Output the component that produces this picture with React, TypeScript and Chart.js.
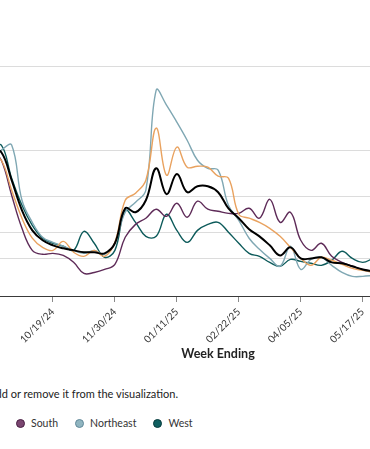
import React, { useEffect, useRef } from "react";
import { Chart, registerables } from "chart.js";

Chart.register(...registerables);

const weeks = [
  "09/07/24", "09/14/24", "09/21/24", "09/28/24", "10/05/24", "10/12/24", "10/19/24", "10/26/24",
  "11/02/24", "11/09/24", "11/16/24", "11/23/24", "11/30/24", "12/07/24", "12/14/24", "12/21/24",
  "12/28/24", "01/04/25", "01/11/25", "01/18/25", "01/25/25", "02/01/25", "02/08/25", "02/15/25",
  "02/22/25", "03/01/25", "03/08/25", "03/15/25", "03/22/25", "03/29/25", "04/05/25", "04/12/25",
  "04/19/25", "04/26/25", "05/03/25", "05/10/25", "05/17/25", "05/24/25",
];

const shownTicks = ["09/07/24", "10/19/24", "11/30/24", "01/11/25", "02/22/25", "04/05/25", "05/17/25"];

const national = [
  7.8, 7.69, 6.19, 4.58, 3.51, 2.98, 2.71, 2.55, 2.44, 2.34, 2.34, 2.28, 2.82, 4.69, 4.48, 5.12,
  6.83, 5.45, 6.52, 5.55, 5.87, 5.87, 5.55, 4.69, 4.16, 3.57, 3.19, 2.71, 2.17, 2.6, 2.01, 2.01,
  2.07, 1.8, 1.75, 1.59, 1.42, 1.32,
];

const midwest = [
  7.53, 7.26, 5.66, 4.16, 3.09, 2.6, 2.44, 2.92, 2.34, 2.12, 2.44, 2.12, 2.87, 5.12, 5.5, 6.19,
  8.98, 6.46, 7.96, 6.89, 6.94, 6.89, 6.41, 6.3, 4.37, 4.16, 3.94, 3.62, 3.19, 2.6, 2.01, 1.64,
  2.07, 1.91, 1.69, 1.48, 1.37, 1.26,
];

const south = [
  7.9, 7.26, 5.39, 3.62, 2.44, 2.23, 2.28, 2.17, 1.8, 1.21, 1.26, 1.42, 1.69, 3.14, 3.83, 4.16,
  4.64, 4.26, 4.96, 4.21, 5.07, 4.64, 4.53, 4.42, 4.42, 4.69, 4.16, 5.17, 3.94, 4.48, 2.98, 2.44,
  2.82, 2.12, 1.8, 1.59, 1.42, 1.32,
];

const northeast = [
  7.26, 7.8, 8.07, 5.12, 3.94, 3.14, 2.87, 2.66, 2.44, 2.28, 2.44, 2.23, 2.82, 4.48, 5.01, 5.66,
  11.01, 10.21, 9.3, 8.33, 7.26, 6.83, 6.73, 4.85, 4.05, 3.09, 2.5, 2.01, 1.59, 2.66, 1.42, 1.96,
  2.07, 1.64, 1.26, 1.05, 1.05, 1.1,
];

const west = [
  7.8, 8.07, 6.3, 4.85, 3.78, 3.09, 2.82, 2.66, 2.44, 3.46, 2.82, 2.07, 2.44, 4.58, 3.94, 3.19,
  3.19, 4.37, 3.51, 2.87, 3.51, 3.83, 3.94, 3.41, 2.82, 2.28, 2.12, 1.8, 1.59, 1.96, 1.85, 1.75,
  1.64, 1.91, 2.39, 2.01, 1.8, 2.01,
];

const levelLines = [0, 2, 3.4, 5.3, 7.8, 12.3];

const regionNames = ["National", "Midwest", "South", "Northeast", "West"];
const lineColors = ["#000000", "#e9a25f", "#5e2b58", "#7fa7b3", "#0c5a5a"];
const dotColors = ["#222222", "#e9a25f", "#7a4670", "#90b5c0", "#0f5f60"];
const dotBorders = ["#000000", "#b9763a", "#4a1f44", "#62899a", "#073b3c"];
const seriesData = [national, midwest, south, northeast, west];

const FONT = "Lato, 'Open Sans', sans-serif";

export default function App() {
  const canvasRef = useRef<HTMLCanvasElement | null>(null);

  useEffect(() => {
    const canvas = canvasRef.current;
    if (!canvas) return;
    const chart = new Chart(canvas, {
      type: "line",
      data: {
        labels: weeks,
        datasets: regionNames.map((name, i) => ({
          label: name,
          data: seriesData[i],
          borderColor: lineColors[i],
          backgroundColor: lineColors[i],
          borderWidth: i === 0 ? 2 : 1.4,
          pointRadius: 0,
          tension: 0.4,
          fill: false,
        })),
      },
      options: {
        animation: false,
        responsive: false,
        devicePixelRatio: 1,
        layout: { padding: { left: 80, right: 10, top: 66, bottom: 0 } },
        plugins: { legend: { display: false }, tooltip: { enabled: false } },
        scales: {
          x: {
            grid: { drawOnChartArea: false, drawTicks: true, tickLength: 6, color: "#8a8a8a" },
            border: { display: true, color: "#3a3a3a", width: 1 },
            ticks: {
              autoSkip: false,
              minRotation: 45,
              maxRotation: 45,
              color: "#333333",
              font: { family: FONT, size: 10 },
              padding: 4,
              callback: function (this: any, value: any) {
                const lab = weeks[value as number];
                return shownTicks.includes(lab) ? lab : null;
              },
            },
            afterFit: (scale: any) => {
              scale.height = 54;
            },
          },
          y: {
            min: 0,
            max: 12.3,
            afterBuildTicks: (scale: any) => {
              scale.ticks = levelLines.map((v) => ({ value: v }));
            },
            grid: { color: "#dcdcdc", drawTicks: false, lineWidth: 1 },
            border: { display: false },
            ticks: { display: false },
          },
        },
      },
    });
    return () => chart.destroy();
  }, []);

  const dotStyle = (i: number): React.CSSProperties => ({
    display: "inline-block",
    width: 9,
    height: 9,
    borderRadius: "50%",
    background: dotColors[i],
    border: `1px solid ${dotBorders[i]}`,
    boxSizing: "border-box",
    marginRight: 6,
    flex: "none",
  });

  const item = (i: number) => (
    <div key={regionNames[i]} style={{ display: "flex", alignItems: "center", marginRight: 17 }}>
      <span style={dotStyle(i)} />
      <span>{regionNames[i]}</span>
    </div>
  );

  return (
    <div
      style={{
        position: "fixed",
        left: 0,
        top: 0,
        width: 370,
        height: 449,
        overflow: "hidden",
        background: "#ffffff",
        fontFamily: FONT,
        color: "#222222",
      }}
    >
      <div style={{ position: "absolute", left: -89, top: 0, width: 472, height: 350 }}>
        <canvas ref={canvasRef} width={472} height={350} style={{ display: "block" }} />
      </div>
      <div
        style={{
          position: "absolute",
          left: 118,
          width: 200,
          top: 346,
          textAlign: "center",
          fontWeight: 700,
          fontSize: 12.5,
          lineHeight: "16px",
          color: "#222222",
        }}
      >
        Week Ending
      </div>
      <div
        style={{
          position: "absolute",
          right: 192,
          top: 387,
          whiteSpace: "nowrap",
          fontSize: 11,
          lineHeight: "14px",
          color: "#222222",
        }}
      >
        Click on a region in the legend to add or remove it from the visualization.
      </div>
      <div
        style={{
          position: "absolute",
          right: 354,
          top: 416,
          display: "flex",
          whiteSpace: "nowrap",
          fontSize: 10.5,
          lineHeight: "14px",
          color: "#333333",
        }}
      >
        {[0, 1].map(item)}
      </div>
      <div
        style={{
          position: "absolute",
          left: 16,
          top: 416,
          display: "flex",
          whiteSpace: "nowrap",
          fontSize: 10.5,
          lineHeight: "14px",
          color: "#333333",
        }}
      >
        {[2, 3, 4].map(item)}
      </div>
    </div>
  );
}
